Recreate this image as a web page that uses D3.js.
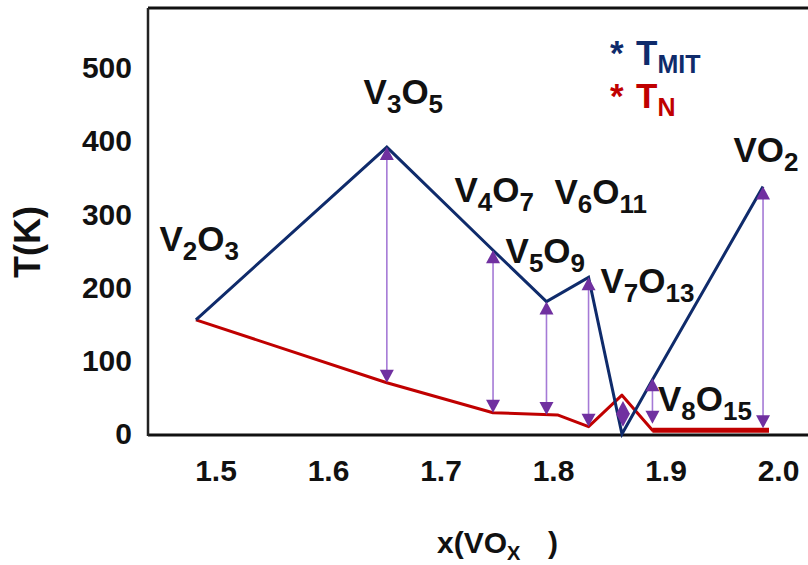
<!DOCTYPE html>
<html>
<head>
<meta charset="utf-8">
<script src="https://cdn.jsdelivr.net/npm/d3@7/dist/d3.min.js"></script>
<style>
  html, body { margin: 0; padding: 0; background: #fff; overflow: hidden; }
  svg { display: block; font-family: "Liberation Sans", Arial, sans-serif; font-weight: bold; }
</style>
</head>
<body>
<svg id="chart" width="808" height="565"></svg>
<script>
// Transition temperatures across the vanadium oxide series VOx
const tmitX = [1.4826, 1.6523, 1.7467, 1.7942, 1.8316, 1.8613, 1.8884, 1.9867];
const tmitT = [156, 392, 251, 181, 214, 0, 74, 338];

const tnX = [1.4826, 1.6523, 1.7467, 1.804, 1.8316, 1.8613, 1.8884, 1.992];
const tnT = [156, 70, 29, 26, 10, 53, 5, 5];

// Double-headed markers spanning T_N .. T_MIT
const arrowX = [1.6523, 1.7467, 1.7942, 1.8316, 1.8622, 1.8884, 1.9867];
const arrowTop = [392, 251, 181, 214, 45, 76, 338];
const arrowBottom = [70, 29, 26, 10, 10, 14, 8];

// Compound names as [element, subscript] pairs, anchored in data units
const compounds = [
  [["V", "2"], ["O", "3"]],
  [["V", "3"], ["O", "5"]],
  [["V", "4"], ["O", "7"]],
  [["V", "6"], ["O", "11"]],
  [["V", "5"], ["O", "9"]],
  [["V", "7"], ["O", "13"]],
  [["V", "8"], ["O", "15"]],
  [["V", ""], ["O", "2"]]
];
const labelAtX = [1.4502, 1.6316, 1.7124, 1.8013, 1.7578, 1.8422, 1.8933, 1.9604];
const labelAtT = [250, 451, 317, 314, 233, 193, 32, 372];

const xTicks = [1.5, 1.6, 1.7, 1.8, 1.9, 2.0];
const yTicks = [0, 100, 200, 300, 400, 500];

const BLUE = "#0f2b6b", RED = "#c00000", PURPLE = "#7030a0", PURPLE_LIGHT = "#a57ad6";

const svg = d3.select("#chart");
const plotLeft = 148, plotTop = 8, plotBottom = 434;

const x = d3.scaleLinear().domain([1.44, 2.04]).range([plotLeft, plotLeft + 0.6 * 1125]);
const y = d3.scaleLinear().domain([0, 582]).range([plotBottom, plotTop]);

// Axes (labels only; the frame is drawn separately)
const xAxis = svg.append("g")
  .attr("transform", `translate(0,${plotBottom})`)
  .call(d3.axisBottom(x).tickValues(xTicks).tickFormat(d3.format(".1f")).tickSize(0).tickPadding(26));
const yAxis = svg.append("g")
  .attr("transform", `translate(${plotLeft},0)`)
  .call(d3.axisLeft(y).tickValues(yTicks).tickSize(0).tickPadding(16));
[xAxis, yAxis].forEach(g => {
  g.select(".domain").remove();
  g.selectAll("text")
    .attr("font-family", "'Liberation Sans', Arial, sans-serif")
    .attr("font-weight", "bold")
    .attr("font-size", 30)
    .attr("fill", "#111");
});

// Plot frame
svg.append("line").attr("x1", plotLeft).attr("x2", 840).attr("y1", plotTop).attr("y2", plotTop)
  .attr("stroke", "#111").attr("stroke-width", 3);
svg.append("line").attr("x1", plotLeft).attr("x2", 840).attr("y1", plotBottom + 1).attr("y2", plotBottom + 1)
  .attr("stroke", "#111").attr("stroke-width", 3);
svg.append("line").attr("x1", plotLeft).attr("x2", plotLeft).attr("y1", plotTop).attr("y2", plotBottom + 2)
  .attr("stroke", "#222").attr("stroke-width", 2.5);

// Arrowhead triangle with its tip at (tx, ty); dir = +1 points up, -1 points down
function headPath(tx, ty, dir) {
  const L = 13, W = 7;
  const by = ty + dir * L;
  return `M${tx},${ty}L${tx - W},${by}L${tx + W},${by}Z`;
}

// T_N line
const lineGen = d3.line().x(d => x(d[0])).y(d => y(d[1]));
const tnPts = tnX.map((v, i) => [v, tnT[i]]);
svg.append("path").datum(tnPts)
  .attr("d", lineGen).attr("fill", "none")
  .attr("stroke", RED).attr("stroke-width", 3).attr("stroke-linejoin", "round");
// flat tail drawn heavier
svg.append("path").datum(tnPts.slice(-2))
  .attr("d", lineGen).attr("fill", "none")
  .attr("stroke", RED).attr("stroke-width", 5);

// T_MIT line
const tmitPts = tmitX.map((v, i) => [v, tmitT[i]]);
svg.append("path").datum(tmitPts)
  .attr("d", lineGen).attr("fill", "none")
  .attr("stroke", BLUE).attr("stroke-width", 3).attr("stroke-linejoin", "miter");

// Double-headed arrows
const arrows = arrowX.map((v, i) => ({ x: v, t: arrowTop[i], b: arrowBottom[i] }));
const ag = svg.append("g");
arrows.forEach(a => {
  const px = x(a.x), yt = y(a.t), yb = y(a.b);
  ag.append("line").attr("x1", px).attr("x2", px).attr("y1", yt + 6).attr("y2", yb - 6)
    .attr("stroke", PURPLE_LIGHT).attr("stroke-width", 1.6);
  ag.append("path").attr("d", headPath(px, yt, 1)).attr("fill", PURPLE);
  ag.append("path").attr("d", headPath(px, yb, -1)).attr("fill", PURPLE);
});

// Compound labels with subscripts
compounds.forEach((parts, i) => {
  const t = svg.append("text")
    .attr("x", x(labelAtX[i])).attr("y", y(labelAtT[i]))
    .attr("fill", "#111");
  let shifted = false;
  parts.forEach(p => {
    t.append("tspan").attr("font-size", 35).attr("dy", shifted ? -9 : 0).text(p[0]);
    shifted = false;
    if (p[1]) {
      t.append("tspan").attr("font-size", 26).attr("dy", 9).text(p[1]);
      shifted = true;
    }
  });
});

// Legend
const legend = [
  { color: BLUE, sub: "MIT", y: 65 },
  { color: RED, sub: "N", y: 108 }
];
legend.forEach(l => {
  svg.append("text").attr("x", 610).attr("y", l.y).attr("font-size", 35).attr("fill", l.color).text("*");
  const t = svg.append("text").attr("x", 636).attr("y", l.y).attr("fill", l.color);
  t.append("tspan").attr("font-size", 35).text("T");
  t.append("tspan").attr("font-size", 25).attr("dy", 8).text(l.sub);
});

// Axis titles
svg.append("text")
  .attr("transform", "translate(40,242) rotate(-90)")
  .attr("text-anchor", "middle").attr("font-size", 36).attr("fill", "#111")
  .text("T(K)");

const xt = svg.append("text").attr("x", 437).attr("y", 553).attr("font-size", 30).attr("fill", "#111");
xt.append("tspan").text("x(VO");
xt.append("tspan").attr("font-size", 20).attr("dy", 7).text("X");
xt.append("tspan").attr("x", 548).attr("dy", -7).text(")");
</script>
</body>
</html>
